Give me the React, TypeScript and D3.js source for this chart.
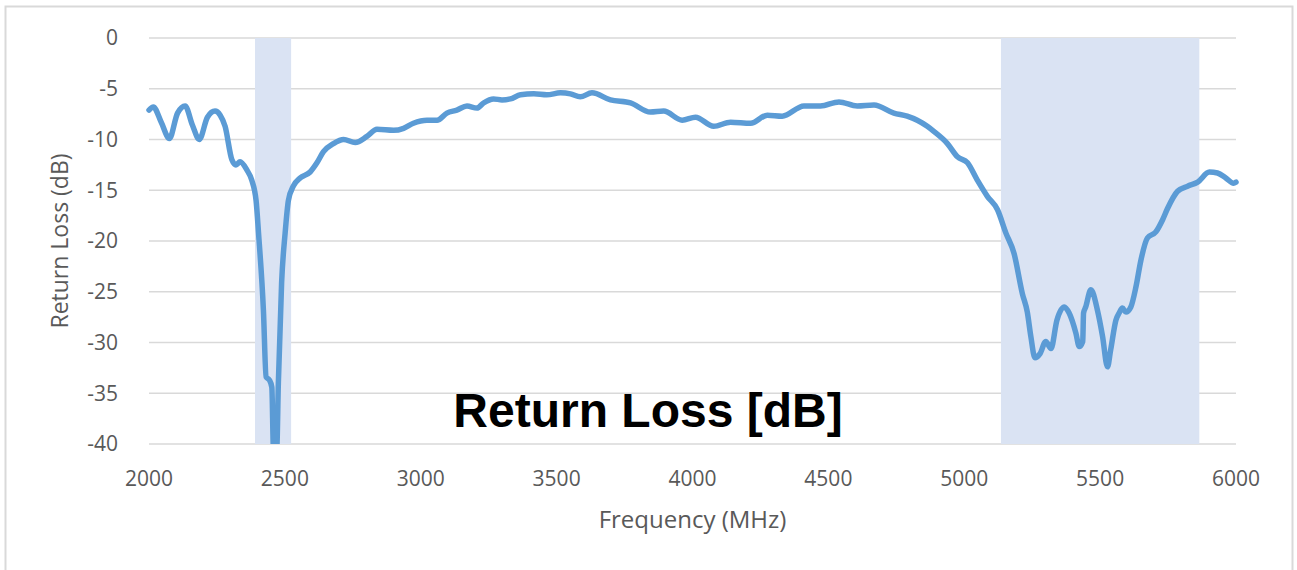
import React, { useRef, useEffect } from 'react';
import * as d3 from 'd3';

// frequency points (MHz) and measured return loss (dB)
const freq = [
  2000, 2016, 2045, 2075, 2105, 2133, 2160, 2185, 2215, 2243, 2262, 2280, 2305, 2320, 2335, 2360, 2378, 2394,
  2403, 2421, 2431, 2443, 2452, 2458, 2464, 2470, 2476, 2488, 2501, 2513, 2531, 2556, 2593, 2618, 2642, 2679,
  2716, 2759, 2802, 2839, 2900, 2937, 2973, 3023, 3060, 3096, 3133, 3170, 3207, 3231, 3268, 3299, 3330, 3367,
  3416, 3464, 3514, 3551, 3587, 3630, 3698, 3772, 3845, 3894, 3962, 4011, 4078, 4140, 4214, 4275, 4330, 4410,
  4471, 4539, 4606, 4668, 4741, 4790, 4827, 4864, 4888, 4938, 4975, 5012, 5048, 5085, 5122, 5153, 5183, 5214,
  5232, 5245, 5260, 5279, 5300, 5319, 5341, 5368, 5386, 5411, 5423, 5436, 5439, 5447, 5466, 5490, 5509, 5527,
  5539, 5558, 5570, 5582, 5595, 5613, 5632, 5650, 5674, 5705, 5730, 5748, 5785, 5822, 5859, 5902, 5932, 5963,
  5991, 6000,
];
const returnLoss = [
  -7.1, -6.8, -8.3, -9.9, -7.4, -6.7, -8.6, -10.0, -7.8, -7.2, -7.6, -8.7, -12.0, -12.5, -12.2, -13.0, -14.0, -16.0,
  -19.2, -26.8, -33.4, -33.7, -34.4, -40.5, -40.5, -40.5, -34.0, -24.1, -19.2, -16.0, -14.6, -13.8, -13.2, -12.3, -11.2, -10.4,
  -10.0, -10.3, -9.7, -9.0, -9.1, -8.9, -8.4, -8.1, -8.1, -7.4, -7.1, -6.7, -6.9, -6.4, -6.0, -6.1, -6.0, -5.6,
  -5.5, -5.6, -5.4, -5.5, -5.8, -5.4, -6.1, -6.4, -7.3, -7.2, -8.1, -7.8, -8.7, -8.3, -8.4, -7.6, -7.7, -6.7,
  -6.7, -6.3, -6.7, -6.6, -7.4, -7.7, -8.1, -8.7, -9.2, -10.4, -11.7, -12.3, -14.0, -15.6, -16.9, -19.2, -21.2, -25.2,
  -27.0, -29.4, -31.5, -31.1, -29.9, -30.6, -27.8, -26.5, -27.1, -29.1, -30.4, -29.9, -27.1, -26.5, -24.8, -26.8, -29.4, -32.4,
  -30.7, -27.8, -27.1, -26.6, -27.0, -26.5, -24.5, -21.9, -19.7, -19.1, -17.9, -16.8, -15.1, -14.6, -14.2, -13.2, -13.3, -13.8,
  -14.3, -14.2,
];
// shaded frequency bands (MHz)
const bands = [[2390, 2523], [5135, 5865]];
const xTicks = [2000, 2500, 3000, 3500, 4000, 4500, 5000, 5500, 6000];
const yTicks = [0, -5, -10, -15, -20, -25, -30, -35, -40];

const App = () => {
  const svgRef = useRef(null);

  useEffect(() => {
    const width = 1297;
    const height = 570;
    const margin = { top: 38, right: 61, bottom: 126, left: 149 };
    const font = "'Open Sans', sans-serif";

    const svg = d3.select(svgRef.current)
      .attr('width', width)
      .attr('height', height);
    svg.selectAll('*').remove();

    // outer frame
    svg.append('rect')
      .attr('x', 5.5).attr('y', 6.5)
      .attr('width', 1287).attr('height', 600)
      .attr('fill', '#fff')
      .attr('stroke', '#d9d9d9')
      .attr('stroke-width', 2);

    const x = d3.scaleLinear().domain([2000, 6000]).range([margin.left, width - margin.right]);
    const y = d3.scaleLinear().domain([-40, 0]).range([height - margin.bottom, margin.top]);

    // gridlines
    svg.append('g')
      .selectAll('line')
      .data(yTicks)
      .enter()
      .append('line')
      .attr('x1', x(2000)).attr('x2', x(6000))
      .attr('y1', d => y(d)).attr('y2', d => y(d))
      .attr('stroke', '#d9d9d9')
      .attr('stroke-width', 1.5);

    // bands
    svg.append('g')
      .selectAll('rect')
      .data(bands)
      .enter()
      .append('rect')
      .attr('x', d => x(d[0]))
      .attr('width', d => x(d[1]) - x(d[0]))
      .attr('y', y(0))
      .attr('height', y(-40) - y(0))
      .attr('fill', '#dae3f3');

    // y tick labels
    svg.append('g')
      .selectAll('text')
      .data(yTicks)
      .enter()
      .append('text')
      .attr('x', 118)
      .attr('y', d => y(d))
      .attr('dy', '0.35em')
      .attr('text-anchor', 'end')
      .attr('font-family', font)
      .attr('font-size', 21)
      .attr('fill', '#595959')
      .text(d => d);

    // x tick labels
    svg.append('g')
      .selectAll('text')
      .data(xTicks)
      .enter()
      .append('text')
      .attr('x', d => x(d))
      .attr('y', 486)
      .attr('text-anchor', 'middle')
      .attr('font-family', font)
      .attr('font-size', 21)
      .attr('fill', '#595959')
      .text(d => d);

    svg.append('text')
      .attr('x', (x(2000) + x(6000)) / 2)
      .attr('y', 528)
      .attr('text-anchor', 'middle')
      .attr('font-family', font)
      .attr('font-size', 24)
      .attr('fill', '#595959')
      .text('Frequency (MHz)');

    svg.append('text')
      .attr('transform', `translate(68,${(y(0) + y(-40)) / 2}) rotate(-90)`)
      .attr('text-anchor', 'middle')
      .attr('font-family', font)
      .attr('font-size', 23)
      .attr('fill', '#595959')
      .text('Return Loss (dB)');

    // clip to plot area
    svg.append('clipPath')
      .attr('id', 'plot-clip')
      .append('rect')
      .attr('x', x(2000) - 5).attr('y', y(0) - 5)
      .attr('width', x(6000) - x(2000) + 10)
      .attr('height', y(-40) - y(0) + 5);

    const points = freq.map((f, i) => [f, returnLoss[i]]);
    const line = d3.line()
      .x(d => x(d[0]))
      .y(d => y(d[1]))
      .curve(d3.curveMonotoneX);

    svg.append('path')
      .datum(points)
      .attr('clip-path', 'url(#plot-clip)')
      .attr('d', line)
      .attr('fill', 'none')
      .attr('stroke', '#5b9bd5')
      .attr('stroke-width', 5.5)
      .attr('stroke-linejoin', 'round')
      .attr('stroke-linecap', 'round');

    // big label
    svg.append('text')
      .attr('x', 648)
      .attr('y', 427)
      .attr('text-anchor', 'middle')
      .attr('font-family', "'Liberation Sans', Arial, sans-serif")
      .attr('font-weight', 'bold')
      .attr('font-size', 48)
      .attr('fill', '#000')
      .text('Return Loss [dB]');
  }, []);

  return (
    <div style={{ position: 'absolute', left: 0, top: 0 }}>
      <svg ref={svgRef} style={{ display: 'block' }}></svg>
    </div>
  );
};

export default App;
